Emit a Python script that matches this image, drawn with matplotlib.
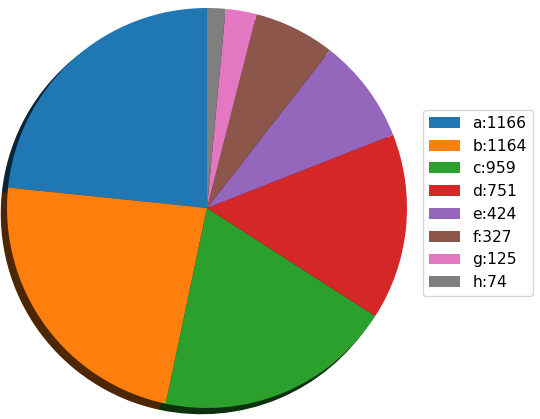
import matplotlib
matplotlib.use("Agg")
import matplotlib.pyplot as plt

# ── data ─────────────────────────────────────────────────────────────────────
labels = ["a", "b", "c", "d", "e", "f", "g", "h"]
values = [1166, 1164, 959, 751, 424, 327, 125, 74]

fig = plt.figure(figsize=(5.4, 4.19), dpi=100)
ax = fig.add_axes([7 / 540, 11 / 419, 400 / 540, 400 / 419])

# solid dark shadow, like the older matplotlib look
wedges, _ = ax.pie(values, startangle=90, shadow={"alpha": 1.0})
ax.set_xlim(-1.0, 1.0)
ax.set_ylim(-1.0, 1.0)
ax.set_aspect("equal")
ax.axis("off")

fig.legend(wedges, [f"{l}:{v}" for l, v in zip(labels, values)],
           loc="center left", bbox_to_anchor=(415 / 540, 1 - 203 / 419),
           fontsize=11.2)

fig.savefig("out.png", dpi=100)
